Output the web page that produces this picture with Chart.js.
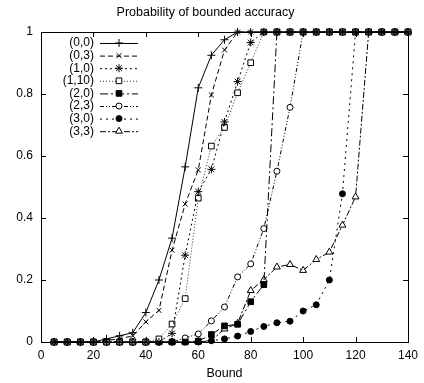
<!DOCTYPE html>
<html>
<head>
<meta charset="utf-8">
<script src="https://cdn.jsdelivr.net/npm/chart.js@4.4.1/dist/chart.umd.min.js"></script>
<style>
  html, body { margin: 0; padding: 0; background: #fff; }
  #wrap { width: 424px; height: 383px; }
</style>
</head>
<body>
<div id="wrap"><canvas id="c" width="424" height="383"></canvas></div>
<script>
const bounds = [5,10,15,20,25,30,35,40,45,50,55,60,65,70,75,80,85,90,95,100,105,110,115,120,125,130,135,140];
const seriesNames = ['(0,0)','(0,3)','(1,0)','(1,10)','(2,0)','(2,3)','(3,0)','(3,3)'];
const s00  = [0,0,0,0,0.01,0.02,0.03,0.095,0.2,0.335,0.565,0.82,0.925,0.975,1,1,1,1,1,1,1,1,1,1,1,1,1,1];
const s03  = [0,0,0,0,0.005,0.01,0.02,0.065,0.102,0.296,0.445,0.555,0.797,0.942,1,1,1,1,1,1,1,1,1,1,1,1,1,1];
const s10  = [0,0,0,0,0,0,0,0,0,0.028,0.28,0.485,0.557,0.71,0.84,0.966,1,1,1,1,1,1,1,1,1,1,1,1];
const s110 = [0,0,0,0,0,0,0,0,0.01,0.058,0.14,0.464,0.632,0.692,0.804,0.901,1,1,1,1,1,1,1,1,1,1,1,1];
const s20  = [0,0,0,0,0,0,0,0,0,0,0,0.003,0.024,0.052,0.057,0.13,0.185,1,1,1,1,1,1,1,1,1,1,1];
const s23  = [0,0,0,0,0,0,0,0,0,0,0.013,0.026,0.068,0.113,0.21,0.252,0.366,0.551,0.757,1,1,1,1,1,1,1,1,1];
const s30  = [0,0,0,0,0,0,0,0,0,0,0,0,0.004,0.01,0.019,0.034,0.05,0.062,0.067,0.1,0.12,0.2,0.478,1,1,1,1,1];
const s33  = [0,0,0,0,0,0,0,0,0,0,0,0,0.005,0.042,0.06,0.166,0.201,0.242,0.25,0.231,0.266,0.29,0.377,0.468,1,1,1,1];
const xTickValues = [0,20,40,60,80,100,120,140];
const yTickLabels = ['0','0.2','0.4','0.6','0.8','1'];

const seriesValues = [s00, s03, s10, s110, s20, s23, s30, s33];
const styles = [
  {pointStyle:'cross',    radius:4,   fill:'#000', dash:[], color:'#000'},
  {pointStyle:'crossRot', radius:3.5, fill:'#000', dash:[5,3], color:'#000'},
  {pointStyle:'star',     radius:4,   fill:'#000', dash:[2,3], color:'#000'},
  {pointStyle:'rect',     radius:4,   fill:'#fff', dash:[1,2], color:'#333'},
  {pointStyle:'rect',     radius:4,   fill:'#000', dash:[8,3,2,3], color:'#000'},
  {pointStyle:'circle',   radius:3,   fill:'#fff', dash:[4,2,1,2,1,2], color:'#000'},
  {pointStyle:'circle',   radius:3,   fill:'#000', dash:[2,4], color:'#000'},
  {pointStyle:'triangle', radius:4,   fill:'#fff', dash:[6,2,2,2], color:'#000'}
];

const datasets = seriesNames.map((name, i) => ({
  label: name,
  data: bounds.map((b, j) => ({x: b, y: seriesValues[i][j]})),
  borderColor: styles[i].color,
  borderWidth: 1,
  borderDash: styles[i].dash,
  pointStyle: styles[i].pointStyle,
  pointRadius: styles[i].radius,
  pointBackgroundColor: styles[i].fill,
  pointBorderColor: '#000',
  pointBorderWidth: 1,
  tension: 0,
  fill: false,
  clip: false
}));

const FONT = 'Liberation Sans, Arial, Helvetica, sans-serif';

const framePlugin = {
  id: 'frame',
  afterDatasetsDraw(chart) {
    const {ctx, chartArea: a, scales} = chart;
    ctx.save();
    ctx.strokeStyle = '#000';
    ctx.lineWidth = 1;
    ctx.setLineDash([]);
    ctx.strokeRect(a.left + 0.5, a.top + 0.5, a.right - a.left, a.bottom - a.top);
    const L = 5;
    ctx.beginPath();
    scales.x.ticks.forEach(t => {
      const px = Math.round(scales.x.getPixelForValue(t.value)) + 0.5;
      ctx.moveTo(px, a.bottom); ctx.lineTo(px, a.bottom - L);
      ctx.moveTo(px, a.top); ctx.lineTo(px, a.top + L);
    });
    scales.y.ticks.forEach(t => {
      const py = Math.round(scales.y.getPixelForValue(t.value)) + 0.5;
      ctx.moveTo(a.left, py); ctx.lineTo(a.left + L, py);
      ctx.moveTo(a.right, py); ctx.lineTo(a.right - L, py);
    });
    ctx.stroke();
    ctx.restore();
  }
};

const legendPlugin = {
  id: 'gpLegend',
  afterDraw(chart) {
    const {ctx, chartArea: a} = chart;
    ctx.save();
    ctx.font = '12px ' + FONT;
    ctx.textAlign = 'right';
    ctx.textBaseline = 'middle';
    chart.data.datasets.forEach((ds, i) => {
      const y = a.top + 11 + i * 12.6;
      ctx.fillStyle = '#000';
      ctx.fillText(ds.label, a.left + 53, y);
      ctx.strokeStyle = ds.borderColor;
      ctx.lineWidth = 1;
      ctx.setLineDash(ds.borderDash);
      ctx.beginPath();
      ctx.moveTo(a.left + 59, y + 0.5);
      ctx.lineTo(a.left + 97, y + 0.5);
      ctx.stroke();
      ctx.setLineDash([]);
      ctx.fillStyle = ds.pointBackgroundColor;
      ctx.strokeStyle = '#000';
      Chart.helpers.drawPoint(ctx, {
        pointStyle: ds.pointStyle, radius: ds.pointRadius, rotation: 0, borderWidth: 1
      }, a.left + 78, y);
    });
    ctx.restore();
  }
};

new Chart(document.getElementById('c'), {
  type: 'line',
  data: { datasets },
  plugins: [framePlugin, legendPlugin],
  options: {
    responsive: false,
    animation: false,
    devicePixelRatio: 1,
    layout: { padding: { left: 0, right: 13, top: 0, bottom: 0 } },
    plugins: {
      legend: { display: false },
      tooltip: { enabled: false },
      title: {
        display: true,
        text: 'Probability of bounded accuracy',
        color: '#000',
        font: { family: FONT, size: 12.5, weight: 'normal' },
        padding: { top: 5, bottom: 12 }
      }
    },
    scales: {
      x: {
        type: 'linear',
        min: 0, max: 140,
        afterFit(s) { s.height = 41; },
        afterBuildTicks(s) { s.ticks = xTickValues.map(v => ({value: v})); },
        grid: { display: false, drawTicks: false },
        border: { display: false },
        ticks: { color: '#000', font: { family: FONT, size: 12 }, padding: 6, maxRotation: 0, autoSkip: false },
        title: { display: true, text: 'Bound', color: '#000', font: { family: FONT, size: 12.5 }, padding: { top: 0, bottom: 2 } }
      },
      y: {
        min: 0, max: 1,
        afterFit(s) { s.width = 41; },
        grid: { display: false, drawTicks: false },
        border: { display: false },
        ticks: {
          stepSize: 0.2, color: '#000', font: { family: FONT, size: 12 }, padding: 8,
          callback: (v, idx) => yTickLabels[idx]
        }
      }
    }
  }
});
</script>
</body>
</html>
